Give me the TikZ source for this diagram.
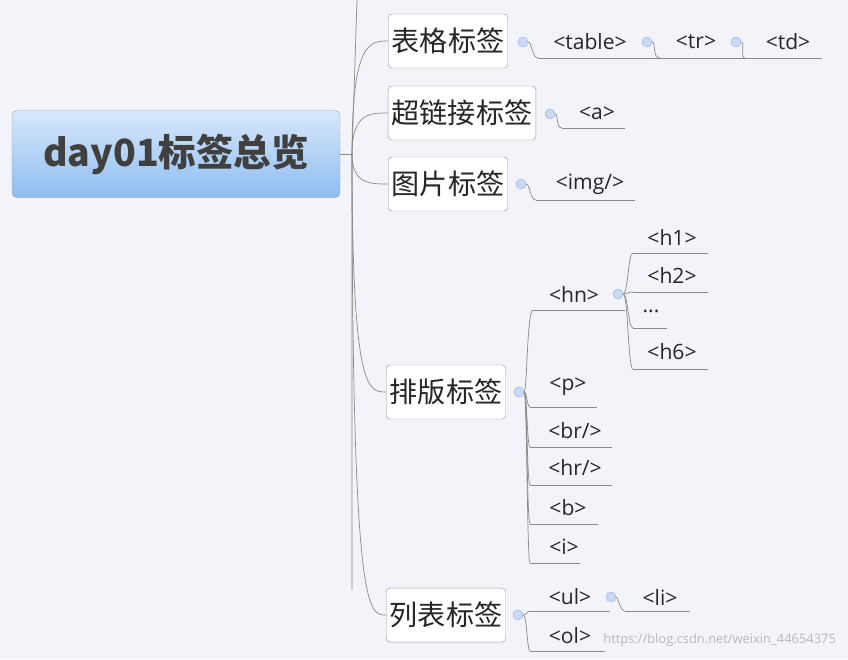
\documentclass[tikz,border=0pt]{standalone}
\usepackage{fontspec}
\setmainfont{Open Sans}
\newfontfamily\cjk{Noto Sans CJK SC}
\usetikzlibrary{positioning,calc}
\definecolor{bgcol}{HTML}{F2F4F9}
\definecolor{rootA}{HTML}{D7E8FB}
\definecolor{rootB}{HTML}{8FBDF0}
\definecolor{linecol}{HTML}{8A8A8A}
\definecolor{dotcol}{HTML}{C9DBF4}
\begin{document}
\begin{tikzpicture}[x=0.03cm,y=-0.03cm,
    root/.style={draw=gray!70, rounded corners=4pt, top color=rootA, bottom color=rootB,
        minimum width=328*0.03cm, minimum height=87*0.03cm, font=\cjk\fontsize{32}{36}\selectfont\bfseries, text=black!75},
    topic/.style={draw=gray!80, fill=white, rounded corners=3pt, minimum height=54*0.03cm,
        inner xsep=3pt, font=\cjk\fontsize{24}{28}\selectfont, text=black!85},
    leaf/.style={font=\fontsize{18}{20}\selectfont, text=black!85, inner sep=1pt},
    dot/.style={circle, draw=dotcol!80!blue, fill=dotcol, inner sep=0pt, minimum size=10*0.03cm},
    conn/.style={draw=linecol, line width=0.6pt}
]
    \fill[bgcol] (0,0) rectangle (848,659);
    \useasboundingbox (0,0) rectangle (848,659);

    \node[root] (R) at (176,154) {day01标签总览};
    \coordinate (T) at (352,154);
    \coordinate (Ttop) at (357,0);
    \coordinate (Tbot) at (352,590);

    % topics
    \node[topic] (A) at (448,41) {表格标签};
    \node[topic] (B) at (462,113) {超链接标签};
    \node[topic] (C) at (448,184) {图片标签};
    \node[topic] (D) at (446,392) {排版标签};
    \node[topic] (E) at (446,615) {列表标签};

    % trunk
    \draw[conn] (R.east) -- (T);
    \draw[conn] (Ttop) -- (T) -- (Tbot);
    \foreach \n in {A,B,C,D,E}
        \draw[conn] (T) .. controls (T|-\n.west) and ($(\n.west)+(-18,0)$) .. (\n.west);

    % markers
    \node[dot] (dA) at (523,42) {};
    \node[dot] (dB) at (550,114) {};
    \node[dot] (dC) at (521,184) {};
    \node[dot] (dD) at (519,392) {};
    \node[dot] (dE) at (518,615) {};
    \node[dot] (dtab) at (647,42) {};
    \node[dot] (dtr) at (736,42) {};
    \node[dot] (dhn) at (618,294) {};
    \node[dot] (dul) at (611,597) {};

    % leaves
    \node[leaf] (tab) at (590,42) {<table>};
    \node[leaf] (tr) at (696,42) {<tr>};
    \node[leaf] (td) at (788,42) {<td>};
    \node[leaf] (a) at (597,113) {<a>};
    \node[leaf] (img) at (590,184) {<img/>};
    \node[leaf] (hn) at (574,294) {<hn>};
    \node[leaf] (h1) at (672,237) {<h1>};
    \node[leaf] (h2) at (672,275) {<h2>};
    \node[leaf] (dots) at (651,311) {...};
    \node[leaf] (h6) at (672,352) {<h6>};
    \node[leaf] (p) at (568,387) {<p>};
    \node[leaf] (br) at (575,431) {<br/>};
    \node[leaf] (hr) at (575,467) {<hr/>};
    \node[leaf] (b) at (568,508) {<b>};
    \node[leaf] (i) at (564,547) {<i>};
    \node[leaf] (ul) at (570,597) {<ul>};
    \node[leaf] (li) at (660,597) {<li>};
    \node[leaf] (ol) at (570,636) {<ol>};

    % underlines
    \coordinate (utab1) at (538,58);  \coordinate (utab2) at (660,58);
    \coordinate (utr1) at (660,58);   \coordinate (utr2) at (745,58);
    \coordinate (utd1) at (745,58);   \coordinate (utd2) at (822,58);
    \coordinate (ua1) at (562,128);   \coordinate (ua2) at (625,128);
    \coordinate (uimg1) at (536,200); \coordinate (uimg2) at (635,200);
    \coordinate (uhn1) at (533,310);  \coordinate (uhn2) at (625,310);
    \coordinate (uh11) at (633,253);  \coordinate (uh12) at (708,253);
    \coordinate (uh21) at (633,292);  \coordinate (uh22) at (708,292);
    \coordinate (udt1) at (633,328);  \coordinate (udt2) at (667,328);
    \coordinate (uh61) at (633,369);  \coordinate (uh62) at (708,369);
    \coordinate (up1) at (530,407);   \coordinate (up2) at (597,407);
    \coordinate (ubr1) at (530,447);  \coordinate (ubr2) at (612,447);
    \coordinate (uhr1) at (530,485);  \coordinate (uhr2) at (612,485);
    \coordinate (ub1) at (530,524);   \coordinate (ub2) at (598,524);
    \coordinate (ui1) at (530,563);   \coordinate (ui2) at (580,563);
    \coordinate (uul1) at (530,611);  \coordinate (uul2) at (610,611);
    \coordinate (uli1) at (625,611);  \coordinate (uli2) at (690,611);
    \coordinate (uol1) at (530,651);  \coordinate (uol2) at (605,651);
    \foreach \u in {tab,tr,td,a,img,hn,h1,h2,dt,h6,p,br,hr,b,i,ul,li,ol}
        \draw[conn] (u\u1) -- (u\u2);

    % branches
    \coordinate (xD) at (527,0);
    \coordinate (xhn) at (628,0);
    \draw[conn] (dA.east) .. controls (532,42) and (532,58) .. (utab1);
    \draw[conn] (dtab.east) .. controls (656,42) and (652,58) .. (utr1);
    \draw[conn] (dtr.east) .. controls (745,42) and (740,58) .. (utd1);
    \draw[conn] (dB.east) .. controls (558,114) and (556,128) .. (ua1);
    \draw[conn] (dC.east) .. controls (530,184) and (530,200) .. (uimg1);
    \foreach \u in {hn,p,br,hr,b,i}
        \draw[conn] (dD.east) .. controls (xD|-dD.east) and (xD|-u\u1) .. (u\u1);
    \foreach \u in {h1,h2,dt,h6}
        \draw[conn] (dhn.east) .. controls (xhn|-dhn.east) and (xhn|-u\u1) .. (u\u1);
    \foreach \u in {ul,ol}
        \draw[conn] (dE.east) .. controls (xD|-dE.east) and (xD|-u\u1) .. (u\u1);
    \draw[conn] (dul.east) .. controls (618,597) and (620,611) .. (uli1);

    % watermark
    \node[font=\fontsize{11}{13}\selectfont, text=gray!55, anchor=east] (wm) at (840,640) {https://blog.csdn.net/weixin\_44654375};
\end{tikzpicture}
\end{document}
